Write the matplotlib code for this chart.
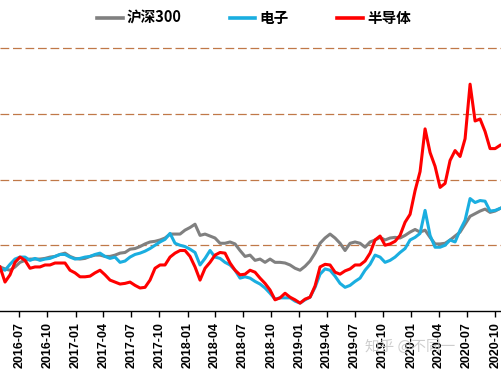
import matplotlib
matplotlib.use("Agg")
import matplotlib.pyplot as plt
import matplotlib.dates as mdates
import pandas as pd
import numpy as np

plt.rcParams['font.family'] = ['Noto Sans CJK SC', 'DejaVu Sans']

# ---- data (relative level) ----
start_date = "2016-04-29"
end_date = "2020-10-17"

hs300 = [0.67, 0.64, 0.62, 0.67, 0.74, 0.77, 0.79, 0.79, 0.79, 0.80,
         0.82, 0.83, 0.86, 0.88, 0.83, 0.80, 0.79, 0.80, 0.83, 0.85,
         0.85, 0.83, 0.83, 0.85, 0.88, 0.89, 0.94, 0.95, 0.98, 1.02,
         1.05, 1.06, 1.08, 1.11, 1.17, 1.17, 1.17, 1.23, 1.27, 1.32,
         1.15, 1.17, 1.14, 1.11, 1.03, 1.03, 1.05, 1.02, 0.92, 0.83,
         0.85, 0.77, 0.79, 0.74, 0.79, 0.74, 0.74, 0.73, 0.70, 0.65,
         0.62, 0.68, 0.76, 0.88, 1.03, 1.11, 1.17, 1.11, 1.03, 0.92,
         1.03, 1.05, 1.03, 0.97, 1.05, 1.08, 1.12, 1.08, 1.11, 1.12,
         1.11, 1.15, 1.20, 1.24, 1.20, 1.23, 1.12, 1.02, 1.02, 1.03,
         1.08, 1.14, 1.20, 1.32, 1.44, 1.48, 1.52, 1.55, 1.50, 1.52,
         1.56]

electronics = [0.65, 0.62, 0.71, 0.79, 0.82, 0.82, 0.77, 0.80, 0.77, 0.79,
               0.80, 0.83, 0.86, 0.86, 0.82, 0.79, 0.80, 0.82, 0.83, 0.86,
               0.88, 0.83, 0.80, 0.82, 0.74, 0.76, 0.82, 0.86, 0.88, 0.91,
               0.95, 1.00, 1.05, 1.09, 1.18, 1.03, 1.00, 0.98, 0.94, 0.89,
               0.70, 0.80, 0.92, 0.82, 0.80, 0.74, 0.70, 0.62, 0.50, 0.52,
               0.50, 0.45, 0.41, 0.35, 0.27, 0.18, 0.20, 0.20, 0.20, 0.15,
               0.12, 0.17, 0.21, 0.36, 0.56, 0.64, 0.62, 0.53, 0.42, 0.36,
               0.39, 0.45, 0.50, 0.62, 0.71, 0.85, 0.82, 0.74, 0.77, 0.82,
               0.89, 0.95, 1.08, 1.12, 1.18, 1.53, 1.15, 0.97, 0.97, 1.00,
               1.08, 1.05, 1.23, 1.38, 1.71, 1.65, 1.68, 1.67, 1.52, 1.53,
               1.56]

semiconductor = [0.67, 0.44, 0.55, 0.74, 0.82, 0.77, 0.65, 0.67, 0.67, 0.70,
                 0.70, 0.73, 0.73, 0.73, 0.62, 0.58, 0.52, 0.52, 0.53, 0.58,
                 0.62, 0.55, 0.47, 0.44, 0.41, 0.42, 0.44, 0.39, 0.35, 0.36,
                 0.47, 0.65, 0.70, 0.70, 0.82, 0.88, 0.92, 0.92, 0.83, 0.67,
                 0.47, 0.65, 0.74, 0.85, 0.89, 0.88, 0.73, 0.62, 0.55, 0.56,
                 0.62, 0.59, 0.50, 0.42, 0.32, 0.17, 0.20, 0.27, 0.21, 0.17,
                 0.12, 0.18, 0.21, 0.38, 0.67, 0.71, 0.70, 0.59, 0.56, 0.61,
                 0.64, 0.70, 0.70, 0.76, 0.88, 1.08, 1.14, 1.00, 1.02, 1.06,
                 1.15, 1.35, 1.47, 1.83, 2.12, 2.77, 2.41, 2.20, 1.88, 1.94,
                 2.29, 2.44, 2.35, 2.62, 3.45, 2.89, 2.92, 2.73, 2.47, 2.47,
                 2.52]

series_names = ["沪深300", "电子", "半导体"]
series_colors = ["#808080", "#1aaee0", "#ff0000"]
grid_levels = [1, 2, 3, 4]

dates = pd.date_range(start_date, end_date, periods=len(hs300))

# ---- figure ----
fig = plt.figure(figsize=(5.01, 3.76), dpi=100)
ax = fig.add_axes([0.0, 1 - 311 / 376, 1.0, (311 - 48) / 376])

for lvl in grid_levels:
    ax.axhline(lvl, color="#c07848", lw=0.9, ls=(0, (7, 3)), zorder=1,
               clip_on=False)

lines = []
for vals, name, col in zip([hs300, electronics, semiconductor],
                           series_names, series_colors):
    ln, = ax.plot(dates, vals, color=col, lw=2.2, label=name, zorder=3,
                  solid_joinstyle="round")
    lines.append(ln)

ax.set_ylim(0, 4)
ax.set_xlim(pd.Timestamp("2016-04-29"), pd.Timestamp("2020-10-20"))

ax.xaxis.set_major_locator(mdates.MonthLocator(bymonth=[1, 4, 7, 10]))
ax.xaxis.set_major_formatter(mdates.DateFormatter("%Y-%m"))
ax.tick_params(axis="x", direction="out", length=4, width=1, color="black",
               pad=4)
for lab in ax.get_xticklabels():
    lab.set_rotation(90)
    lab.set_fontfamily("Liberation Sans")
    lab.set_fontweight("bold")
    lab.set_fontsize(9)

ax.set_yticks([])
for s in ["top", "right", "left"]:
    ax.spines[s].set_visible(False)
ax.spines["bottom"].set_color("black")
ax.spines["bottom"].set_linewidth(1.0)

fs = 10.5
leg = fig.legend(handles=lines, labels=series_names, loc="center",
                 bbox_to_anchor=(254 / 501, 1 - 18 / 376), ncol=3,
                 frameon=False, fontsize=fs, handlelength=1.75,
                 handletextpad=0.3, columnspacing=3.3, borderpad=0,
                 prop={"weight": "bold", "size": fs})
for ln in leg.get_lines():
    ln.set_linewidth(2.6)

fig.text(365 / 501, 1 - 347 / 376, "知乎 @不同一", fontsize=10.5,
         color="#c8c8c8", ha="left", va="center", alpha=0.9)

fig.savefig("out.png", dpi=100)
